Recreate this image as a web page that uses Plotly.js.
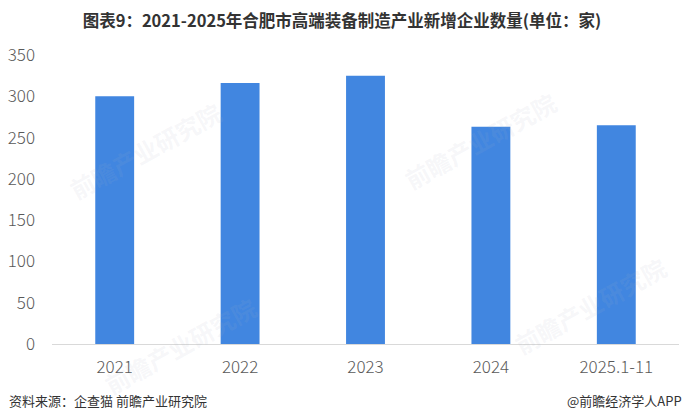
<!DOCTYPE html>
<html>
<head>
<meta charset="utf-8">
<script src="https://cdn.plot.ly/plotly-3.0.1.min.js"></script>
<style>html,body{margin:0;padding:0;background:#fff;}#chart{width:684px;height:420px;}</style>
</head>
<body>
<div id="chart"></div>
<script>
const categories = ["2021", "2022", "2023", "2024", "2025.1-11"];
const newFirms = [300, 316, 325, 263, 265];
const yTickValues = [0, 50, 100, 150, 200, 250, 300, 350];
const titleText = "图表9：2021-2025年合肥市高端装备制造产业新增企业数量(单位：家)";
const sourceText = "资料来源：企查猫 前瞻产业研究院";
const creditText = "@前瞻经济学人APP";
const watermarkText = "前瞻产业研究院";

const FONT = '"Noto Sans CJK SC", "Noto Sans", sans-serif';
const L = 52, R = 5, T = 55, B = 76, W = 684, H = 420;
const pw = W - L - R, ph = H - T - B;
const px = x => (x - L) / pw;
const py = y => (H - B - y) / ph;

const marks = [[145, 150], [480, 140], [180, 345], [590, 305]];
const annotations = [
  {text: sourceText, xref: 'paper', yref: 'paper', x: px(7), y: py(400), xanchor: 'left', yanchor: 'middle', showarrow: false, font: {family: FONT, size: 13, color: '#333333'}},
  {text: creditText, xref: 'paper', yref: 'paper', x: px(684), y: py(400), xanchor: 'right', yanchor: 'middle', showarrow: false, font: {family: FONT, size: 13, color: '#333333'}}
].concat(marks.map(m => ({
  text: watermarkText, xref: 'paper', yref: 'paper', x: px(m[0]), y: py(m[1]), xanchor: 'center', yanchor: 'middle',
  showarrow: false, textangle: -29, font: {family: FONT, size: 24, color: 'rgba(170,180,195,0.11)', weight: 'bold'}
})));

Plotly.newPlot('chart', [{
  type: 'bar', x: categories, y: newFirms,
  marker: {color: '#4186E0'}, hoverinfo: 'x+y'
}], {
  width: W, height: H,
  margin: {l: L, r: R, t: T, b: B, pad: 0},
  paper_bgcolor: '#ffffff', plot_bgcolor: '#ffffff',
  bargap: 0.69,
  showlegend: false,
  title: {text: '<b>' + titleText + '</b>', x: 0.5, xref: 'container', xanchor: 'center', y: 1 - 21 / H, yref: 'container', yanchor: 'middle', font: {family: FONT, size: 16.5, color: '#333333'}},
  xaxis: {type: 'category', showgrid: false, zeroline: false, showline: true, linecolor: '#d9d9d9', linewidth: 1, ticks: '', ticklabelstandoff: 8, tickfont: {family: FONT, size: 17, color: '#595959', weight: 300}, fixedrange: true},
  yaxis: {range: [0, 350], tickvals: yTickValues, showgrid: false, zeroline: false, showline: false, ticks: '', ticklabelstandoff: 16, tickfont: {family: FONT, size: 17, color: '#595959', weight: 300}, fixedrange: true},
  annotations: annotations
}, {displayModeBar: false, staticPlot: true});
</script>
</body>
</html>
